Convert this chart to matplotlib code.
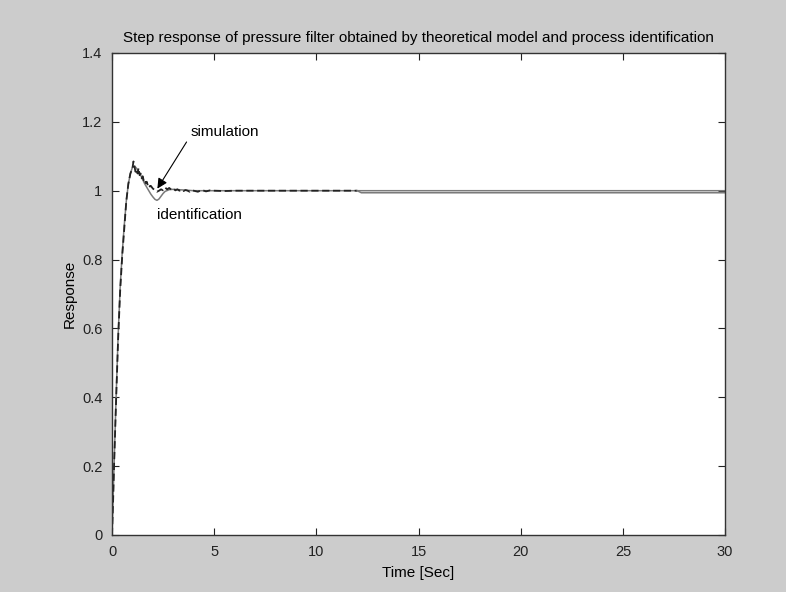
import matplotlib
matplotlib.use("Agg")
import matplotlib.pyplot as plt

plt.rcParams['font.family'] = ['Liberation Sans', 'DejaVu Sans']

# simulation (noisy, black dashed)
sim_t = [0.0, 0.05, 0.1, 0.2, 0.3, 0.4, 0.5, 0.6, 0.7, 0.8, 0.9, 1.0,
         1.05, 1.1, 1.15, 1.2, 1.25, 1.3, 1.35, 1.4, 1.45, 1.5, 1.55, 1.6,
         1.65, 1.7, 1.75, 1.8, 1.85, 1.9,
         2.0, 2.1, 2.2, 2.3, 2.4, 2.5, 2.6, 2.7, 2.8, 2.9, 3.0, 3.1, 3.2,
         3.3, 3.4, 3.5, 3.6, 3.7, 3.8, 3.9, 4.0,
         4.2, 4.4, 4.6, 4.8, 5.0, 5.5, 6.0, 7.0, 8.0, 9.0, 10.0, 11.0, 12.0]
sim_v = [0.0, 0.09, 0.2, 0.39, 0.57, 0.71, 0.81, 0.89, 0.97, 1.02, 1.05, 1.065,
         1.085, 1.07, 1.055, 1.062, 1.05, 1.066, 1.045, 1.05, 1.036, 1.042, 1.03, 1.034,
         1.022, 1.026, 1.016, 1.02, 1.012, 1.014,
         1.006, 1.002, 0.997, 1.0, 1.004, 1.001, 1.009, 1.004, 1.008, 1.003, 1.006, 1.001, 1.004,
         1.0, 1.003, 0.999, 1.002, 1.0, 0.997, 1.001, 1.0,
         0.997, 1.002, 0.998, 1.001, 1.0, 0.999, 1.0, 1.0, 1.0, 1.0, 1.0, 1.0, 1.0]
sim_tail_t = [12.0, 12.2, 30.0]
sim_tail_v = [1.0, 0.994, 0.994]

# identification (smooth, gray)
id_t = [0, 0.1, 0.2, 0.3, 0.4, 0.5, 0.6, 0.7, 0.8, 0.9, 1.0, 1.1, 1.2, 1.4, 1.6,
        1.8, 1.9, 2.0, 2.1, 2.2, 2.3, 2.4, 2.5, 2.6, 2.8, 3.0, 3.5, 4.0, 5.0, 7.0, 30.0]
id_v = [0, 0.2, 0.4, 0.58, 0.72, 0.82, 0.9, 0.97, 1.02, 1.05, 1.068, 1.072, 1.065, 1.045, 1.02,
        1.0, 0.99, 0.982, 0.975, 0.972, 0.976, 0.984, 0.992, 0.998, 1.003, 1.004, 1.002, 1.0, 1.0, 1.0, 1.0]

fig = plt.figure(figsize=(7.86, 5.92), dpi=100, facecolor='#cccccc')
ax = fig.add_axes([0.1425, 0.0963, 0.78, 0.8142])
ax.set_facecolor('white')

ax.plot(id_t, id_v, color='#7a7a7a', lw=1.1)
ax.plot(sim_t, sim_v, color='#222222', lw=1.3, ls=(0, (4, 2)))
ax.plot(sim_tail_t, sim_tail_v, color='#7a7a7a', lw=1.1)

ax.annotate('simulation', xy=(2.22, 1.006), xytext=(3.82, 1.17),
            fontsize=11, va='center', ha='left',
            arrowprops=dict(arrowstyle='-|>', color='black', lw=0.8,
                            mutation_scale=15, shrinkA=1, shrinkB=0,
                            relpos=(0.0, 0.2)))
ax.text(2.22, 0.928, 'identification', fontsize=11, va='center', ha='left')

ax.set_xlim(0, 30)
ax.set_ylim(0, 1.4)
ax.set_xticks([0, 5, 10, 15, 20, 25, 30])
ax.set_yticks([0, 0.2, 0.4, 0.6, 0.8, 1, 1.2, 1.4])
ax.set_yticklabels(['0', '0.2', '0.4', '0.6', '0.8', '1', '1.2', '1.4'])
ax.tick_params(direction='in', top=True, right=True, length=5, width=0.8,
               labelsize=10.5, colors='#222222', pad=7)
for s in ax.spines.values():
    s.set_color('#333333')
    s.set_linewidth(1.0)

ax.set_title('Step response of pressure filter obtained by theoretical model and process identification',
             fontsize=11, pad=8)
ax.set_xlabel('Time [Sec]', fontsize=11, labelpad=5)
ax.set_ylabel('Response', fontsize=11, labelpad=4)

fig.savefig('out.png', dpi=100, facecolor=fig.get_facecolor())
